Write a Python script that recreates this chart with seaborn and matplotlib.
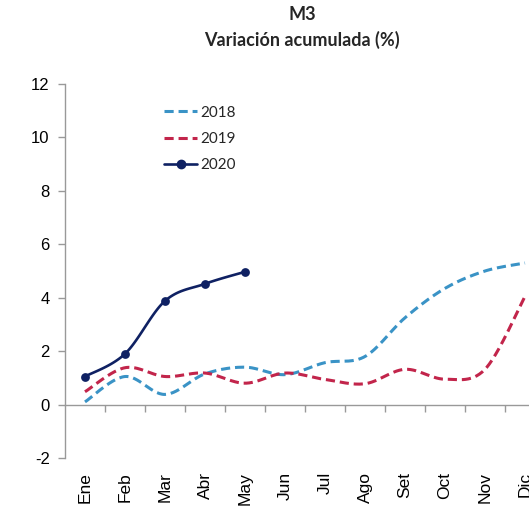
import numpy as np
import pandas as pd
import matplotlib
matplotlib.use("Agg")
import matplotlib.pyplot as plt
import seaborn as sns
from matplotlib.lines import Line2D

meses = ["Ene", "Feb", "Mar", "Abr", "May", "Jun", "Jul", "Ago", "Set", "Oct", "Nov", "Dic"]
v2018 = [0.1, 1.05, 0.38, 1.15, 1.4, 1.12, 1.57, 1.8, 3.25, 4.35, 5.0, 5.3]
v2019 = [0.48, 1.38, 1.05, 1.18, 0.8, 1.18, 0.94, 0.78, 1.32, 0.95, 1.32, 4.05]
v2020 = [1.05, 1.9, 3.88, 4.52, 4.97]
series = ["2018", "2019", "2020"]
colores = {"2018": "#3A93C6", "2019": "#C2254B", "2020": "#0F2163"}

sns.set_theme(style="white")
plt.rcParams["font.family"] = ["Liberation Sans", "DejaVu Sans"]
plt.rcParams["axes.unicode_minus"] = False


def suavizar(y, n=30):
    """Excel-like smoothed line (Catmull-Rom Bezier) through the data points."""
    x = np.arange(len(y), dtype=float)
    y = np.asarray(y, dtype=float)
    P = np.column_stack([x, y])
    pts = [P[0]]
    for i in range(len(P) - 1):
        p0 = P[i - 1] if i > 0 else P[i]
        p1 = P[i]
        p2 = P[i + 1]
        p3 = P[i + 2] if i + 2 < len(P) else P[i + 1]
        c1 = p1 + (p2 - p0) / 6.0
        c2 = p2 - (p3 - p1) / 6.0
        t = np.linspace(0, 1, n)[1:, None]
        seg = ((1 - t) ** 3) * p1 + 3 * ((1 - t) ** 2) * t * c1 + 3 * (1 - t) * t ** 2 * c2 + t ** 3 * p2
        pts.extend(seg)
    pts = np.array(pts)
    return pts[:, 0], pts[:, 1]


fig = plt.figure(figsize=(5.29, 5.15), dpi=100)
ax = fig.add_axes([65 / 529, 1 - 458 / 515, 480 / 529, (458 - 84) / 515])

datos = {"2018": v2018, "2019": v2019, "2020": v2020}
estilos = {"2018": (0, (3, 1.6)), "2019": (0, (3, 1.6)), "2020": "-"}
anchos = {"2018": 2.2, "2019": 2.2, "2020": 1.9}

for s in series:
    xs, ys = suavizar(datos[s])
    df = pd.DataFrame({"x": xs, "y": ys})
    sns.lineplot(data=df, x="x", y="y", ax=ax, sort=False, estimator=None,
                 color=colores[s], linewidth=anchos[s], linestyle=estilos[s])

df20 = pd.DataFrame({"x": np.arange(len(v2020)), "y": v2020})
sns.scatterplot(data=df20, x="x", y="y", ax=ax, color=colores["2020"], s=40,
                edgecolor=colores["2020"], linewidth=0, zorder=5)

ax.set_xlim(-0.5, 11.5)
ax.set_ylim(-2, 12)
ax.set_yticks(range(-2, 13, 2))
ax.set_xticks(range(12))
ax.set_xticklabels(meses, rotation=90, va="top", ha="center")
ax.set_xlabel("")
ax.set_ylabel("")
ax.tick_params(axis="x", length=0, pad=10, labelsize=12.5, colors="black")
ax.tick_params(axis="y", length=5, width=1, color="#999999", direction="out",
               left=True, pad=6, labelsize=12, labelcolor="black")
for side in ["top", "right", "bottom"]:
    ax.spines[side].set_visible(False)
ax.spines["left"].set_color("#999999")
ax.spines["left"].set_linewidth(1)
ax.grid(False)

# eje horizontal en cero con marcas entre categorias
sec = ax.secondary_xaxis(2 / 14)
sec.set_xticks(np.arange(0.5, 11.5, 1))
sec.set_xticklabels([])
sec.tick_params(axis="x", length=5, width=1, color="#999999", direction="out")
sec.spines["bottom"].set_color("#999999")
sec.spines["bottom"].set_linewidth(1)

handles = [
    Line2D([], [], color=colores["2018"], linewidth=2.2, linestyle=(0, (3, 1.6))),
    Line2D([], [], color=colores["2019"], linewidth=2.2, linestyle=(0, (3, 1.6))),
    Line2D([], [], color=colores["2020"], linewidth=1.9, marker="o", markersize=6),
]
leg = fig.legend(handles, series, loc="upper left", bbox_to_anchor=(150 / 529, 1 - 92 / 515),
                 frameon=False, prop={"family": "Lato", "size": 11}, handlelength=2.2,
                 handletextpad=0.2, labelspacing=0.8)

fig.text(302 / 529, 1 - 15 / 515, "M3", ha="center", va="center",
         fontsize=13, fontweight="bold", family="Lato")
fig.text(302 / 529, 1 - 40 / 515, "Variación acumulada (%)", ha="center", va="center",
         fontsize=13, fontweight="bold", family="Lato")

fig.savefig("out.png", dpi=100)
